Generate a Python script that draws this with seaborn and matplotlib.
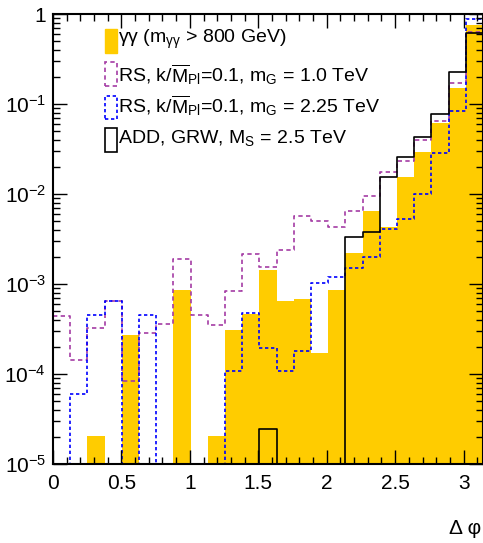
import numpy as np
import pandas as pd
import matplotlib
matplotlib.use("Agg")
import matplotlib.pyplot as plt
import seaborn as sns
from matplotlib.ticker import MultipleLocator, LogLocator, FuncFormatter, NullFormatter
from matplotlib.patches import Rectangle

# ---- data: normalized Delta-phi distributions, 25 bins over [0, pi] ----
n_bins = 25
gg_data = [0, 0, 2.05e-5, 0, 2.7e-4, 0, 0, 8.6e-4, 0, 2.05e-5,
           3.06e-4, 4.7e-4, 1.43e-3, 6.4e-4, 6.9e-4, 1.72e-4, 8.6e-4, 2.19e-3, 6.5e-3, 4.3e-3,
           1.56e-2, 2.9e-2, 6.1e-2, 0.149, 0.755]
rs_1000 = [4.4e-4, 1.43e-4, 3.27e-4, 6.4e-4, 8.4e-5, 2.83e-4, 3.57e-4, 1.9e-3, 4.5e-4, 3.5e-4,
           8.4e-4, 2.14e-3, 1.56e-3, 2.39e-3, 5.7e-3, 5.0e-3, 4.33e-3, 6.5e-3, 9.5e-3, 1.77e-2,
           2.35e-2, 3.98e-2, 6.5e-2, 0.173, 0.636]
rs_2250 = [0, 6.0e-5, 4.5e-4, 6.4e-4, 0, 4.5e-4, 0, 0, 0, 0,
           1.09e-4, 4.8e-4, 1.96e-4, 1.09e-4, 1.8e-4, 1.03e-3, 1.19e-3, 1.52e-3, 2.01e-3, 4.05e-3,
           5.3e-3, 9.9e-3, 2.83e-2, 8.4e-2, 0.873]
add_grw = [0, 0, 0, 0, 0, 0, 0, 0, 0, 0,
           0, 0, 2.43e-5, 0, 0, 0, 0, 3.29e-3, 3.75e-3, 1.56e-2,
           2.6e-2, 4.33e-2, 7.7e-2, 0.229, 0.61]
labels = [r"$\mathrm{\gamma\gamma}$ (m$_{\mathrm{\gamma\gamma}}$ > 800 GeV)",
          r"RS, k/$\overline{\mathrm{M}}_{\mathrm{Pl}}$=0.1, m$_{\mathrm{G}}$ = 1.0 TeV",
          r"RS, k/$\overline{\mathrm{M}}_{\mathrm{Pl}}$=0.1, m$_{\mathrm{G}}$ = 2.25 TeV",
          r"ADD, GRW, M$_{\mathrm{S}}$ = 2.5 TeV"]
x_ticks = [0, 0.5, 1, 1.5, 2, 2.5, 3]

sns.set_style("ticks")
plt.rcParams["font.family"] = ["Liberation Sans", "DejaVu Sans"]
plt.rcParams["mathtext.fontset"] = "custom"
plt.rcParams["mathtext.rm"] = "Liberation Sans"
plt.rcParams["mathtext.it"] = "Liberation Sans:italic"
plt.rcParams["mathtext.bf"] = "Liberation Sans:bold"
plt.rcParams["mathtext.default"] = "regular"
plt.rcParams["text.color"] = "black"
plt.rcParams["xtick.color"] = "black"
plt.rcParams["ytick.color"] = "black"

W, H = 483, 543
fig = plt.figure(figsize=(W / 100, H / 100), dpi=100)
ax = fig.add_axes([53 / W, 1 - 464 / H, (W - 53) / W, (464 - 14) / H])

edges = [float(e) for e in np.linspace(0, np.pi, n_bins + 1)]
centers = [0.5 * (edges[i] + edges[i + 1]) for i in range(n_bins)]
df = pd.DataFrame({"dphi": centers, "gg": gg_data, "rs1": rs_1000,
                   "rs2": rs_2250, "add": add_grw})

YELLOW = "#ffcc00"
MAGENTA = "#a43ca4"
BLUE = "#0000ff"

sns.histplot(data=df, x="dphi", weights="gg", bins=edges, element="bars", fill=True,
             color=YELLOW, alpha=1, linewidth=0, ax=ax)
sns.histplot(data=df, x="dphi", weights="rs1", bins=edges, element="step", fill=False,
             color=MAGENTA, linewidth=1.2, linestyle=(0, (2.6, 2.0)), ax=ax)
sns.histplot(data=df, x="dphi", weights="rs2", bins=edges, element="step", fill=False,
             color=BLUE, linewidth=1.2, linestyle=(0, (2.0, 1.6)), ax=ax)
sns.histplot(data=df, x="dphi", weights="add", bins=edges, element="step", fill=False,
             color="black", linewidth=1.2, ax=ax)

ax.set_yscale("log")
ax.set_ylim(1e-5, 1)
ax.set_xlim(0, np.pi)
ax.set_xlabel("")
ax.set_ylabel("")
ax.set_axisbelow(False)

ax.set_xticks(x_ticks)
ax.xaxis.set_minor_locator(MultipleLocator(0.1))
ax.xaxis.set_major_formatter(FuncFormatter(lambda v, p: f"{v:g}"))
ax.yaxis.set_major_locator(LogLocator(base=10, numticks=10))
ax.yaxis.set_minor_locator(LogLocator(base=10, subs=np.arange(2, 10), numticks=20))
ax.yaxis.set_minor_formatter(NullFormatter())


def yfmt(v, p):
    e = int(round(np.log10(v)))
    return "1" if e == 0 else r"$10^{%d}$" % e


ax.yaxis.set_major_formatter(FuncFormatter(yfmt))
ax.tick_params(which="both", direction="in", top=True, right=True, labelsize=15,
               width=1.0, color="black")
ax.tick_params(which="major", length=10)
ax.tick_params(which="minor", length=5)
ax.tick_params(axis="x", which="major", pad=7)
ax.tick_params(axis="y", which="major", pad=5)
for s in ax.spines.values():
    s.set_linewidth(1.5)
    s.set_color("black")


def fx(px):
    return px / W


def fy(py):
    return 1 - py / H


boxes = [(29.3, 53.3), (61.7, 86.0), (95.7, 119.0), (128.3, 151.7)]
baselines = [43.3, 81.7, 112.7, 143.3]
styles = [dict(facecolor=YELLOW, edgecolor=YELLOW, linewidth=1.0),
          dict(facecolor="none", edgecolor=MAGENTA, linewidth=1.2, linestyle=(0, (2.6, 2.0))),
          dict(facecolor="none", edgecolor=BLUE, linewidth=1.2, linestyle=(0, (2.0, 1.6))),
          dict(facecolor="none", edgecolor="black", linewidth=1.2)]
for (t, b), base, st, lab in zip(boxes, baselines, styles, labels):
    fig.patches.append(Rectangle((fx(104.5), fy(b)), fx(116.5) - fx(104.5), (b - t) / H,
                                 transform=fig.transFigure, **st))
    fig.text(fx(117.5), fy(base), lab, fontsize=14, ha="left", va="baseline")

fig.text(fx(481), fy(528), "Δ φ", fontsize=15, ha="right", va="center")

fig.savefig("out.png", dpi=100)
